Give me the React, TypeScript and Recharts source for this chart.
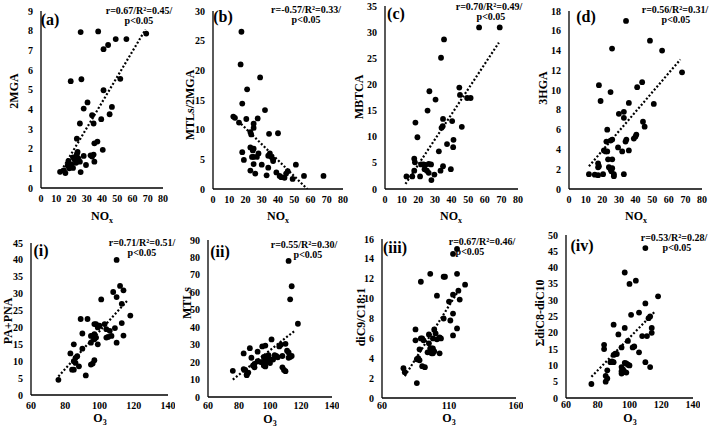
import React from 'react';
import { ScatterChart, Scatter, XAxis, YAxis } from 'recharts';

type Pt = [number, number];

// ---- data (x, y pairs) ----
const noxTicks = [0, 10, 20, 30, 40, 50, 60, 70, 80];
const o3Ticks = [60, 80, 100, 120, 140];
const o3TicksWide = [60, 110, 160];

const mga2: Pt[] = [
  [26, 7.93], [37.5, 7.96], [49, 7.57], [56, 7.57], [69, 7.85], [41, 7.06], [44, 7.27],
  [19.5, 5.43], [26.5, 5.53], [52, 5.55], [41, 4.97], [30.5, 4.35], [28, 4.04], [46.5, 4.12],
  [33.5, 3.7], [45, 3.75], [39.5, 3.5], [25.5, 3.28], [34.5, 3.28], [23.5, 2.51], [37, 2.36],
  [35, 2.27], [40.5, 1.94], [24, 1.83], [23.5, 1.72], [28, 1.63], [32.5, 1.66], [34.5, 1.7],
  [33.5, 1.6], [21, 1.56], [18, 1.38], [23, 1.28], [25.5, 1.34], [35, 1.34], [29.5, 1.17],
  [17.5, 1.15], [21, 1.02], [18.5, 1.0], [15, 0.9], [12.5, 0.82], [16, 0.76], [26, 0.81],
  [22, 1.45], [24.5, 1.5], [20, 1.2],
];
const mtls2mga: Pt[] = [
  [17.5, 26.5], [17, 21], [21, 16.8], [29, 18.8], [18, 14.4], [32, 13.3], [12.5, 12.2], [13.5, 12],
  [16, 11.2], [20.5, 11.8], [27.5, 11.9], [25, 11], [25, 10.3], [23, 9.6], [23.5, 9.2], [34.5, 9.3],
  [40, 9.4], [23, 7], [25, 6.8], [24.5, 6.5], [28, 6], [18, 6.2], [35, 6], [34, 5.6], [36, 5.4],
  [37, 5], [37, 4.7], [25, 5.4], [27, 5.4], [24, 5.4], [19, 4.9], [25, 4.2], [30, 4.1], [34, 3.6],
  [51, 4.1], [23, 3.1], [26, 2.6], [33, 2.3], [39, 2.8], [41, 2.2], [42, 2.0], [44, 1.9], [45, 2.6],
  [46, 3.0], [49, 1.7], [56, 2.2], [68, 2.2],
];
const mbtca: Pt[] = [
  [56.6, 30.9], [69, 30.9], [35.5, 28.6], [33.7, 25.1], [26.7, 18.7], [30.4, 17.1], [44.7, 19.4],
  [45.1, 18], [49.4, 17.4], [51.5, 17.4], [25.6, 15], [18.3, 12.7], [19.5, 9.9], [34.9, 13.4],
  [40.4, 13], [34, 11.7], [34.7, 12], [46.2, 11.9], [41.2, 9.4], [41, 8], [37.3, 8.6], [32.4, 7.2],
  [17.6, 5.8], [18, 5.1], [21.7, 4.7], [23.2, 4.7], [26.3, 4.8], [27.7, 4.7], [24.2, 4.6],
  [23.8, 3.8], [25.2, 3.5], [26.3, 3.1], [34.9, 4.35], [21.1, 2.4], [33.4, 3.5], [39.6, 3.8],
  [29.7, 2.75], [27.9, 1.7], [12.9, 2.4], [16.4, 2.4], [17.6, 3.5],
];
const hga3: Pt[] = [
  [34.3, 17], [48.7, 15], [56, 14], [25.9, 14.2], [18, 10.5], [19, 8.9], [25, 9.8], [41, 10.3],
  [44, 10.8], [51, 8.6], [68, 11.8], [36, 8.7], [30, 7.6], [33, 7.8], [33, 7.2], [44.5, 6.8],
  [45.5, 6.3], [23, 6], [22.5, 4.8], [25, 4.9], [26, 5], [34, 4.8], [34.5, 5], [39, 5.1], [40, 5.3],
  [40.5, 5.5], [29.5, 4.2], [32, 3.8], [36, 3.9], [21, 3.9], [22, 3.8], [23, 3.8], [23.5, 3.0],
  [26, 3], [24, 2.2], [25, 2.0], [25.5, 1.8], [26, 2.1], [17.5, 2.6], [18, 2.3], [17.5, 2.2],
  [27, 1.5], [27, 1.3], [12, 1.5], [15.5, 1.45], [17.5, 1.4], [20.5, 1.5], [33, 1.5],
];
const paPna: Pt[] = [
  [110, 40], [112, 32.3], [114, 31], [108, 30.5], [110, 29], [101, 28.3], [113, 27], [118, 23.5],
  [113, 21.3], [89, 22.5], [93, 22.5], [97, 21], [98, 21], [99, 20], [100, 20.5], [103, 21],
  [104, 19.5], [106, 19], [109, 19.8], [90, 18.2], [95, 17.5], [96, 17.5], [97, 18], [98, 17],
  [99, 15], [104, 17], [105, 17.2], [107, 17.5], [110, 15.5], [114, 17.6], [85, 15], [90, 13.7],
  [97, 16.5], [95, 15.5], [83, 12.3], [85, 10], [86, 11], [87, 11.5], [86, 9.5], [84, 7.5],
  [85, 7.5], [88, 8.5], [95, 9], [96, 9.3], [97, 10.3], [92, 5.8], [76, 4.5],
];
const mtls: Pt[] = [
  [112, 78], [114, 63.5], [113, 56], [118, 42], [110, 30.5], [111, 26.5], [112, 25.5], [112, 22.5],
  [114, 23.5], [113, 23], [107, 30], [106, 29], [101, 33], [97, 29.5], [95, 29], [87, 28], [83, 25],
  [92, 26], [88, 22.5], [96, 23], [99, 24], [100, 21.5], [103, 24], [104, 23.5], [105, 22.8],
  [108, 23.5], [97, 21], [94, 20], [92, 20.5], [95, 20], [90, 19], [89, 18], [90, 17], [97, 17.5],
  [98, 20], [100, 19.5], [99, 23], [108, 17], [109, 15.5], [110, 14.8], [83, 16], [84, 15.5],
  [85, 13], [85, 12.5], [86, 14], [76, 15], [102, 21.5], [96, 18],
];
const diC9: Pt[] = [
  [116, 15], [113, 14.5], [96, 12.5], [89, 11.7], [106, 12.2], [107, 12.2], [116, 12.5], [122, 11.4],
  [113, 10.4], [117, 10.8], [118, 9.9], [101, 10.3], [113, 8.5], [111, 7.8], [116, 7], [113, 6.3],
  [110, 9.7], [106, 8], [85, 6.9], [85, 5.8], [89, 6], [90, 6], [91, 5.8], [95, 6.4], [100, 6.5],
  [99, 6.9], [98, 6], [101, 5.9], [103, 6.1], [104, 6], [95, 5.5], [96, 5], [97, 5], [98, 5],
  [94, 4.6], [96, 4.7], [97, 4.5], [98, 4.5], [99, 4.7], [103, 4.5], [88, 4.9], [87, 4], [88, 3.8],
  [86, 3.9], [90, 3.2], [92, 3.1], [76, 3], [77, 2.6], [86, 1.5],
];
const diC8C10: Pt[] = [
  [110, 46], [97, 38.5], [100, 35], [104, 36], [118, 31.2], [110, 29], [106, 26.2], [101, 25.5],
  [113, 25], [112, 24.5], [90, 22.5], [97, 21.5], [93, 19.5], [114, 21.5], [108, 19], [111, 19],
  [114, 20], [99, 17.5], [95, 15.5], [102, 15.5], [103, 15.8], [84, 16.3], [84, 15], [90, 13.2],
  [91, 13.6], [92, 13.5], [88, 11], [89, 11.2], [90, 11], [106, 14], [97, 10.8], [98, 10.6],
  [99, 10.2], [100, 10], [110, 11], [113, 9.5], [95, 9.5], [95, 8.2], [96, 8.7], [97, 8], [98, 7.8],
  [95, 7.5], [85, 6.8], [86, 6], [86, 8.5], [85, 5], [76, 4.3],
];

// trend line end points
const trendA: Pt[] = [[12, 0.71], [68.5, 8.06]];
const trendB: Pt[] = [[12, 12.4], [58, 0]];
const trendC: Pt[] = [[12.3, 0.96], [68.5, 28]];
const trendD: Pt[] = [[12, 2.3], [67, 13.1]];
const trendI: Pt[] = [[76, 5.5], [116, 27.8]];
const trendII: Pt[] = [[76, 10], [116, 38]];
const trendIII: Pt[] = [[77, 2.2], [118, 11]];
const trendIV: Pt[] = [[76, 6.5], [116, 26.5]];

const SERIF = '"Liberation Serif", "Times New Roman", serif';
const AXIS = { stroke: '#000', strokeWidth: 1.3 };

const toObj = (pts: Pt[]) => pts.map(([x, y]) => ({ x, y }));
const range = (a: number, b: number, s: number) => {
  const out: number[] = [];
  for (let v = a; v <= b + 1e-9; v += s) out.push(v);
  return out;
};

// tick labels drawn as plain svg text so the serif font sticks
const makeXTick = (shift: number) => (p: any) => (
  <text x={p.x} y={p.y - 1 + shift} dy="0.71em" textAnchor="middle" fill="#000" fontSize={10} fontWeight={700} fontFamily={SERIF}>
    {p.payload.value}
  </text>
);
const YTick = (p: any) => (
  <text x={p.x} y={p.y} dy="0.355em" textAnchor="end" fill="#000" fontSize={10} fontWeight={700} fontFamily={SERIF}>
    {p.payload.value}
  </text>
);

const Dot = (p: any) => <circle cx={p.cx} cy={p.cy} r={2.9} fill="#000" />;
const NoDot = () => <g />;

interface PanelSpec {
  plot: [number, number, number, number]; // left, top, right, bottom in page px
  xDomain: [number, number];
  xTicks: number[];
  yDomain: [number, number];
  yTicks: number[];
  points: Pt[];
  trend: Pt[];
  tickShift?: number;
}

function Panel({ spec }: { spec: PanelSpec }) {
  const yW = 34, xH = 24, mt = 6, mr = 7;
  const [l, t, r, b] = spec.plot;
  const left = l - yW;
  const top = t - mt;
  const width = r - l + yW + mr;
  const height = b - t + mt + xH;
  return (
    <div style={{ position: 'absolute', left, top }}>
      <ScatterChart width={width} height={height} margin={{ top: mt, right: mr, left: 0, bottom: 0 }}>
        <XAxis
          type="number"
          dataKey="x"
          domain={spec.xDomain}
          ticks={spec.xTicks}
          interval={0}
          tickLine={false}
          axisLine={AXIS}
          tick={makeXTick(spec.tickShift || 0)}
          height={xH}
          allowDataOverflow
        />
        <YAxis
          type="number"
          dataKey="y"
          domain={spec.yDomain}
          ticks={spec.yTicks}
          interval={0}
          tickLine={false}
          axisLine={AXIS}
          tick={YTick}
          width={yW}
          allowDataOverflow
        />
        <Scatter data={toObj(spec.trend)} shape={NoDot} line={{ stroke: '#000', strokeWidth: 2.2, strokeDasharray: '2 2' }} isAnimationActive={false} />
        <Scatter data={toObj(spec.points)} shape={Dot} isAnimationActive={false} />
      </ScatterChart>
    </div>
  );
}

const panels: PanelSpec[] = [
  { plot: [41, 11, 163, 188], xDomain: [0, 80], xTicks: noxTicks, yDomain: [0, 9], yTicks: range(0, 9, 1), points: mga2, trend: trendA },
  { plot: [213, 11, 343, 189], xDomain: [0, 80], xTicks: noxTicks, yDomain: [0, 30], yTicks: range(0, 30, 5), points: mtls2mga, trend: trendB },
  { plot: [385, 6, 518, 189], xDomain: [0, 80], xTicks: noxTicks, yDomain: [0, 35], yTicks: range(0, 35, 5), points: mbtca, trend: trendC },
  { plot: [569, 11, 702, 189], xDomain: [0, 80], xTicks: noxTicks, yDomain: [0, 18], yTicks: range(0, 18, 2), points: hga3, trend: trendD },
  { plot: [31, 243, 168, 395], xDomain: [60, 140], xTicks: o3Ticks, yDomain: [0, 45], yTicks: range(0, 45, 5), points: paPna, trend: trendI },
  { plot: [208, 240, 332, 397], xDomain: [60, 140], xTicks: o3Ticks, yDomain: [0, 90], yTicks: range(0, 90, 10), points: mtls, trend: trendII, tickShift: -2 },
  { plot: [382, 239, 516, 398], xDomain: [60, 160], xTicks: o3TicksWide, yDomain: [0, 16], yTicks: range(0, 16, 2), points: diC9, trend: trendIII, tickShift: -3 },
  { plot: [566, 235, 693, 398], xDomain: [60, 140], xTicks: o3Ticks, yDomain: [0, 50], yTicks: range(0, 50, 5), points: diC8C10, trend: trendIV, tickShift: -4 },
];

// text overlays: [text, centerX, centerY]
const panelLabels: [string, number, number][] = [
  ['(a)', 50, 20], ['(b)', 223, 17], ['(c)', 396, 14], ['(d)', 586, 17],
  ['(i)', 41, 251], ['(ii)', 220, 252], ['(iii)', 395, 248], ['(iv)', 582, 246],
];
const stats: [string, string, number, number, number][] = [
  ['r=0.67/R²=0.45/', 'p<0.05', 139, 11, 0],
  ['r=-0.57/R²=0.33/', 'p<0.05', 306, 10, 0],
  ['r=0.70/R²=0.49/', 'p<0.05', 489, 7, 2],
  ['r=0.56/R²=0.31/', 'p<0.05', 675, 10, 1],
  ['r=0.71/R²=0.51/', 'p<0.05', 142, 243, 0],
  ['r=0.55/R²=0.30/', 'p<0.05', 304, 245, 4],
  ['r=0.67/R²=0.46/', 'p<0.05', 482, 242, -12],
  ['r=0.53/R²=0.28/', 'p<0.05', 674, 238, 3],
];
const yTitles: [string, number, number][] = [
  ['2MGA', 14, 91], ['MTLs/2MGA', 190, 105], ['MBTCA', 359, 97], ['3HGA', 543, 88],
  ['PA+PNA', 8, 321], ['MTLs', 187, 303], ['diC9/C18:1', 361, 317], ['ΣdiC8-diC10', 540, 313],
];
const xTitleCenters = [102, 278, 451, 636];
const xTitlesBottom: [number, number][] = [[100, 419], [270, 420], [449, 419], [630, 419]];

const txt: React.CSSProperties = { position: 'absolute', fontFamily: SERIF, fontWeight: 700, color: '#000', whiteSpace: 'nowrap' };

export default function App() {
  return (
    <div style={{ position: 'absolute', left: 0, top: 0, width: 709, height: 427, background: '#fff', overflow: 'hidden' }}>
      {panels.map((p, i) => <Panel key={i} spec={p} />)}
      {panelLabels.map(([s, x, y]) => (
        <div key={s} style={{ ...txt, left: x, top: y, fontSize: 16, lineHeight: '16px', transform: 'translate(-50%, -50%)' }}>{s}</div>
      ))}
      {stats.map(([a, b, x, y, dx], i) => (
        <div key={i} style={{ ...txt, left: x, top: y - 5, fontSize: 10, lineHeight: '10px', textAlign: 'center', transform: 'translateX(-50%)' }}>
          <div>{a}</div>
          <div style={{ position: 'relative', left: dx }}>{b}</div>
        </div>
      ))}
      {yTitles.map(([s, x, y]) => (
        <div key={s} style={{ ...txt, left: x, top: y, fontSize: 12, lineHeight: '12px', transform: 'translate(-50%, -50%) rotate(-90deg)' }}>{s}</div>
      ))}
      {xTitleCenters.map((x) => (
        <div key={'n' + x} style={{ ...txt, left: x, top: 217, fontSize: 12, lineHeight: '10px', transform: 'translate(-50%, -50%)' }}>
          NO<span style={{ fontSize: 8, position: 'relative', top: 3 }}>x</span>
        </div>
      ))}
      {xTitlesBottom.map(([x, y]) => (
        <div key={'o' + x} style={{ ...txt, left: x, top: y, fontSize: 12, lineHeight: '10px', transform: 'translate(-50%, -50%)' }}>
          O<span style={{ fontSize: 8, position: 'relative', top: 3 }}>3</span>
        </div>
      ))}
    </div>
  );
}
